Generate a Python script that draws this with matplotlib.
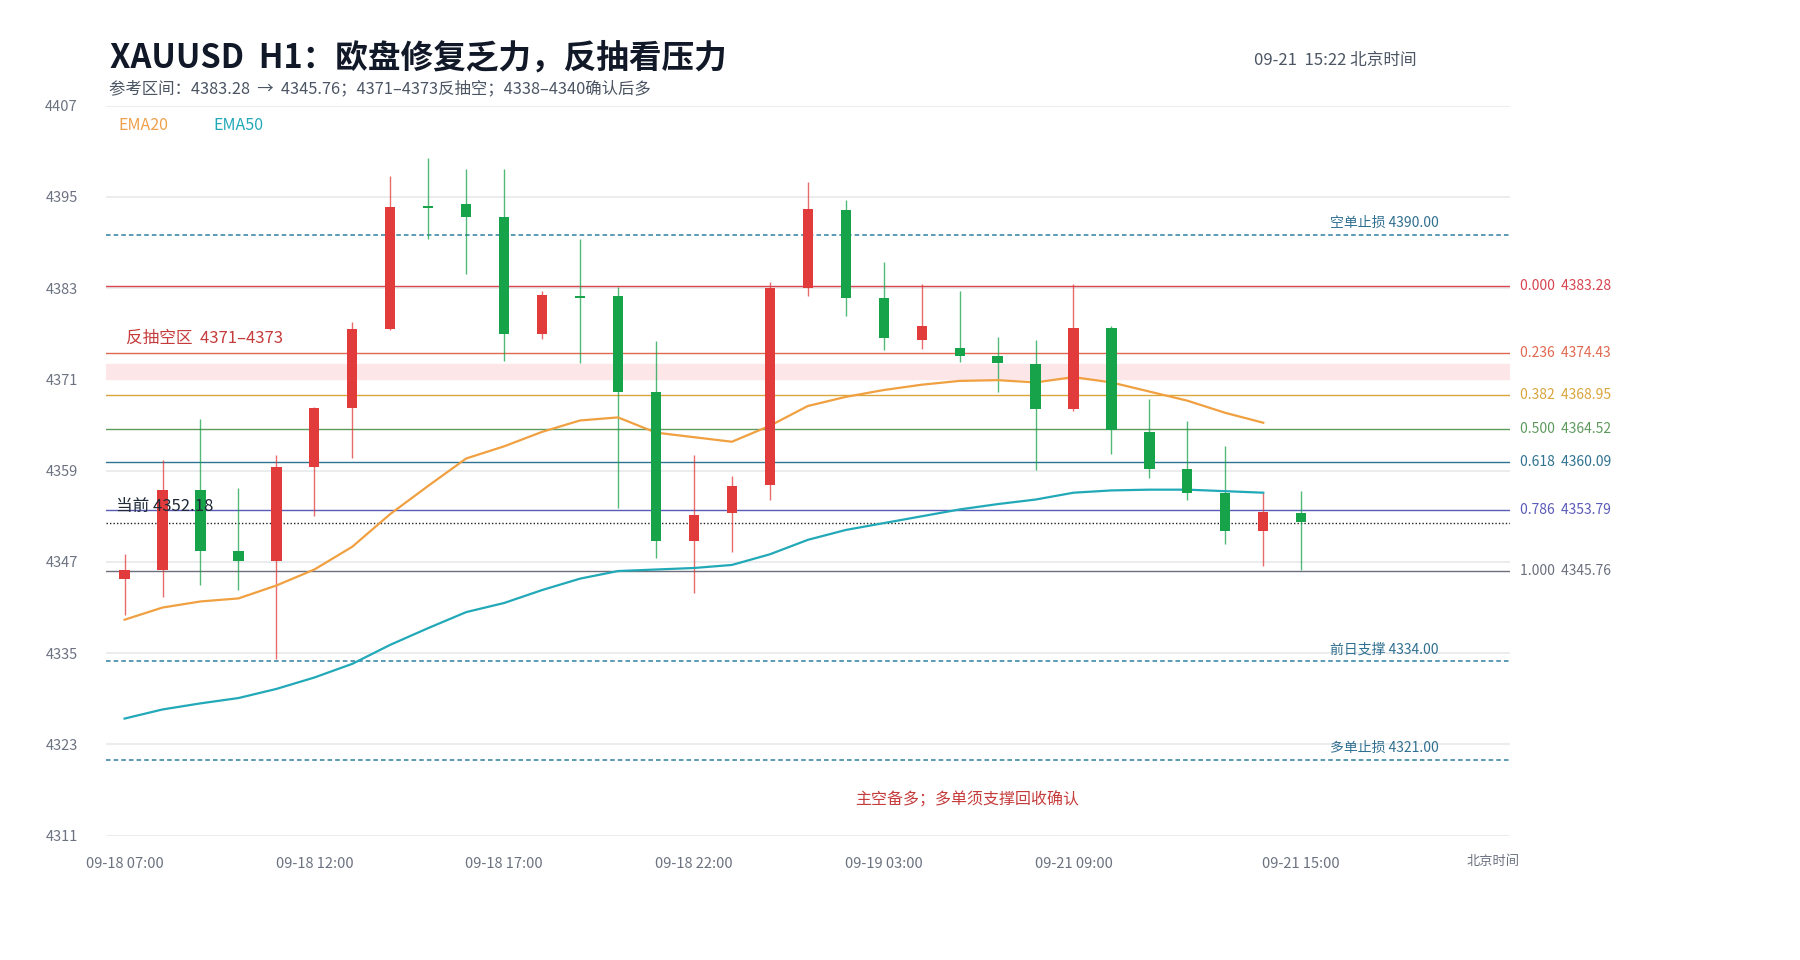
import matplotlib
matplotlib.use("Agg")
import matplotlib.pyplot as plt
import matplotlib.transforms as mtransforms

plt.rcParams['font.family'] = ['Noto Sans CJK SC', 'DejaVu Sans']

# ---------------- data ----------------
tick_idx = [0, 5, 10, 15, 20, 25, 31]
tick_labels = ["09-18 07:00", "09-18 12:00", "09-18 17:00", "09-18 22:00",
               "09-19 03:00", "09-21 09:00", "09-21 15:00"]

opens = [4344.7, 4346.0, 4356.4, 4348.4, 4347.1, 4359.5, 4367.2, 4377.6,
         4393.8, 4394.1, 4392.4, 4377.0, 4382.0, 4381.9, 4369.4, 4349.7,
         4353.4, 4357.1, 4383.0, 4393.3, 4381.7, 4376.2, 4375.1, 4374.1,
         4373.0, 4367.1, 4377.7, 4364.1, 4359.2, 4356.0, 4351.0, 4353.4]
highs = [4348.0, 4360.4, 4365.8, 4356.7, 4361.0, 4367.4, 4378.5, 4397.8,
         4400.1, 4398.7, 4398.6, 4382.6, 4389.4, 4383.2, 4376.0, 4361.1,
         4358.3, 4383.8, 4397.0, 4394.6, 4386.4, 4383.6, 4382.6, 4376.6,
         4376.2, 4383.6, 4378.0, 4368.4, 4365.5, 4362.2, 4356.1, 4356.3]
lows = [4340.0, 4342.4, 4343.9, 4343.3, 4334.2, 4353.0, 4360.7, 4377.5,
        4389.5, 4384.8, 4373.4, 4376.3, 4373.1, 4354.1, 4347.5, 4342.9,
        4348.3, 4355.2, 4381.9, 4379.4, 4374.8, 4375.0, 4373.3, 4369.3,
        4359.1, 4366.8, 4361.2, 4358.0, 4355.2, 4349.3, 4346.4, 4346.0]
closes = [4346.0, 4356.4, 4348.4, 4347.1, 4359.5, 4367.2, 4377.6, 4393.7,
          4393.6, 4392.4, 4377.0, 4382.1, 4381.7, 4369.4, 4349.7, 4353.2,
          4357.0, 4383.0, 4393.4, 4381.7, 4376.4, 4378.0, 4374.1, 4373.2,
          4367.1, 4377.8, 4364.3, 4359.2, 4356.0, 4351.0, 4353.5, 4352.2]

ema20 = [4339.4, 4341.0, 4341.8, 4342.2, 4343.9, 4346.0, 4349.0, 4353.3,
         4357.0, 4360.6, 4362.2, 4364.1, 4365.6, 4366.0, 4364.0, 4363.4,
         4362.8, 4364.9, 4367.5, 4368.7, 4369.6, 4370.3, 4370.8, 4370.9,
         4370.6, 4371.3, 4370.6, 4369.4, 4368.2, 4366.6, 4365.3]
ema50 = [4326.4, 4327.6, 4328.4, 4329.1, 4330.3, 4331.8, 4333.6, 4336.1,
         4338.3, 4340.4, 4341.6, 4343.3, 4344.8, 4345.8, 4346.0, 4346.2,
         4346.6, 4348.0, 4349.9, 4351.2, 4352.1, 4353.0, 4353.9, 4354.6,
         4355.2, 4356.1, 4356.4, 4356.5, 4356.5, 4356.3, 4356.1]

fib_ratios = ["0.000", "0.236", "0.382", "0.500", "0.618", "0.786", "1.000"]
fib_values = [4383.28, 4374.43, 4368.95, 4364.52, 4360.09, 4353.79, 4345.76]
fib_colors = ["#d64550", "#e0684f", "#d9a53c", "#5e9a5e", "#2e7391", "#5a5ab8", "#6b6f7e"]

level_names = ["空单止损", "前日支撑", "多单止损"]
level_values = [4390.00, 4334.00, 4321.00]

zone_low, zone_high = 4371, 4373
current_price = 4352.18

y_ticks = [4311, 4323, 4335, 4347, 4359, 4371, 4383, 4395, 4407]

# ---------------- figure ----------------
W, H = 1800, 960
fig = plt.figure(figsize=(W / 100, H / 100), dpi=100)
L, R, T, B = 105.6, 1510, 105.6, 835.7
ax = fig.add_axes([L / W, 1 - B / H, (R - L) / W, (B - T) / H])

ax.set_xlim(-0.5, 36.5)
ax.set_ylim(4311, 4407)
ax.set_yticks(y_ticks)
ax.set_yticklabels([str(v) for v in y_ticks])
ax.set_xticks(tick_idx)
ax.set_xticklabels(tick_labels)
ax.tick_params(axis='y', length=0, pad=20, labelsize=10.5, labelcolor='#6b7280')
ax.tick_params(axis='x', length=0, pad=15, labelsize=10.5, labelcolor='#6b7280')
for s in ax.spines.values():
    s.set_visible(False)
ax.yaxis.grid(True, color='#e6e7ea', linewidth=1.1, zorder=0)
ax.set_axisbelow(True)

trans = mtransforms.blended_transform_factory(ax.transAxes, ax.transData)

# zone band
ax.axhspan(zone_low, zone_high, color='#fde6e8', zorder=1)
ax.text(20 / (R - L), 4375.3, "反抽空区  4371–4373", color='#c63c3c', fontsize=12,
        transform=trans, va='bottom', ha='left', zorder=6)

# fib lines
for r, v, c in zip(fib_ratios, fib_values, fib_colors):
    ax.axhline(v, color=c, linewidth=1.0, zorder=2)
    ax.text(1 + 10 / (R - L), v, f"{r}  {v:.2f}", color=c, fontsize=10,
            transform=trans, va='center', ha='left')

# dashed levels
for n, v in zip(level_names, level_values):
    ax.axhline(v, color='#2f7fa0', linewidth=1.1, linestyle=(0, (3, 2)), zorder=2)
    ax.text(0.949, v + 0.6, f"{n} {v:.2f}", color='#2f6f90', fontsize=10,
            transform=trans, va='bottom', ha='right')

# current price
ax.axhline(current_price, color='#222222', linewidth=1.0, linestyle=(0, (1, 1.5)), zorder=2)
ax.text(10 / (R - L), 4354.3, f"当前 {current_price:.2f}", color='#1f2937', fontsize=12,
        transform=trans, va='center', ha='left', zorder=6)

# EMAs
x_ema = list(range(len(ema20)))
ax.plot(x_ema, ema20, color='#f0a040', linewidth=1.6, zorder=4)
ax.plot(x_ema, ema50, color='#22a9b8', linewidth=1.6, zorder=4)

# candles
up_c, dn_c = '#e23b3b', '#17a34a'
x = list(range(len(opens)))
cols = [up_c if c >= o else dn_c for o, c in zip(opens, closes)]
ax.vlines(x, lows, highs, colors=cols, linewidth=1.0, alpha=0.75, zorder=3)
bottoms = [min(o, c) for o, c in zip(opens, closes)]
heights = [max(abs(c - o), 0.25) for o, c in zip(opens, closes)]
ax.bar(x, heights, bottom=bottoms, width=0.27, color=cols, zorder=5, linewidth=0)

# bottom note
ax.text(22.2, 4315.7, "主空备多；多单须支撑回收确认", color='#c63c3c', fontsize=11.5,
        ha='center', va='center', zorder=6)

# legend texts
fig.text(118 / W, 1 - 125 / H, "EMA20", color='#f0a04b', fontsize=11.5, va='center', ha='left')
fig.text(213.5 / W, 1 - 125 / H, "EMA50", color='#22a9b8', fontsize=11.5, va='center', ha='left')

# titles
fig.text(110 / W, 1 - 58 / H, "XAUUSD  H1：欧盘修复乏力，反抽看压力", fontsize=23.5,
         fontweight='bold', color='#111827', va='center', ha='left')
fig.text(109 / W, 1 - 88.4 / H,
         "参考区间：4383.28  →  4345.76；4371–4373反抽空；4338–4340确认后多",
         fontsize=11.8, color='#4b5563', va='center', ha='left')
fig.text(1254 / W, 1 - 60 / H, "09-21  15:22 北京时间", fontsize=12, color='#4b5563',
         va='center', ha='left')
fig.text(1493 / W, 1 - 862 / H, "北京时间", fontsize=9.5, color='#6b7280',
         va='center', ha='center')

fig.savefig("out.png", dpi=100, facecolor='white')
